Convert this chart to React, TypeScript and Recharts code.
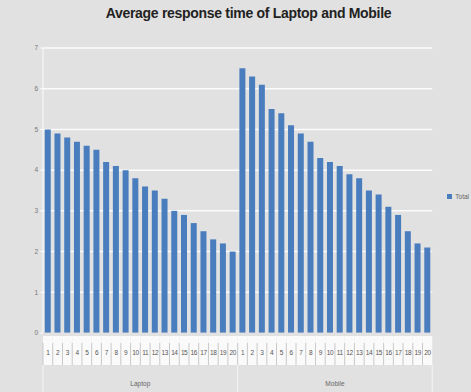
import { BarChart, Bar, XAxis, YAxis, CartesianGrid, Legend } from 'recharts'

const groups = ['Laptop', 'Mobile']
const runs = [1, 2, 3, 4, 5, 6, 7, 8, 9, 10, 11, 12, 13, 14, 15, 16, 17, 18, 19, 20]
const laptopTimes = [5.0, 4.9, 4.8, 4.7, 4.6, 4.5, 4.2, 4.1, 4.0, 3.8, 3.6, 3.5, 3.3, 3.0, 2.9, 2.7, 2.5, 2.3, 2.2, 2.0]
const mobileTimes = [6.5, 6.3, 6.1, 5.5, 5.4, 5.1, 4.9, 4.7, 4.3, 4.2, 4.1, 3.9, 3.8, 3.5, 3.4, 3.1, 2.9, 2.5, 2.2, 2.1]
const yTicks = [0, 1, 2, 3, 4, 5, 6, 7]

const seriesByGroup = [laptopTimes, mobileTimes]
const data = groups.flatMap((group, g) =>
  runs.map((run, i) => ({
    key: `${group}-${run}`,
    run,
    group,
    Total: seriesByGroup[g][i],
  })),
)

const W = 471
const H = 392
const M = { top: 48, right: 17, bottom: 3, left: 0 }
const Y_W = 43
const PLOT_W = 432 - Y_W
const BAND = PLOT_W / data.length
const BLUE = '#4a7dbd'

function RunTick(props: any) {
  const { x, y, index } = props
  return (
    <g>
      <rect x={x - BAND / 2} y={y + 1} width={BAND} height={29} fill="#fafafa" />
      <line x1={x - BAND / 2} x2={x - BAND / 2} y1={y + 8} y2={y + 30} stroke="#c9c9c9" />
      <text x={x} y={y + 20} textAnchor="middle" fontSize={6.5} fill="#555" letterSpacing={-0.4}>
        {data[index]?.run}
      </text>
    </g>
  )
}

function GroupTick(props: any) {
  const { x, y, payload, index } = props
  const pos = index % runs.length
  return (
    <g>
      {pos === 0 && (
        <line x1={x - BAND / 2} x2={x - BAND / 2} y1={y} y2={y + 28} stroke="#f4f4f4" />
      )}
      {index === data.length - 1 && (
        <line x1={x + BAND / 2} x2={x + BAND / 2} y1={y} y2={y + 28} stroke="#f4f4f4" />
      )}
      {pos === runs.length / 2 - 1 && (
        <text x={x + BAND / 2} y={y + 21} textAnchor="middle" fontSize={6.5} fill="#666">
          {payload.value}
        </text>
      )}
    </g>
  )
}

function LegendBox() {
  return (
    <div style={{ display: 'flex', alignItems: 'center', fontSize: 6.5, color: '#666', fontFamily: 'Liberation Sans, sans-serif' }}>
      <span style={{ width: 5, height: 5, background: BLUE, marginRight: 3 }} />
      Total
    </div>
  )
}

export default function App() {
  return (
    <div
      style={{
        position: 'absolute',
        left: 0,
        top: 0,
        width: W,
        height: H,
        background: '#e1e1e1',
        fontFamily: 'Liberation Sans, sans-serif',
        overflow: 'hidden',
      }}
    >
      <div
        style={{
          position: 'absolute',
          top: 5,
          left: 13,
          width: W,
          textAlign: 'center',
          fontSize: 14,
          fontWeight: 'bold',
          color: '#222',
          letterSpacing: -0.3,
        }}
      >
        Average response time of Laptop and Mobile
      </div>
      <BarChart width={W} height={H} data={data} margin={M} barCategoryGap="18%">
        <CartesianGrid vertical={false} stroke="#fbfbfb" strokeWidth={1.5} />
        <YAxis
          width={Y_W}
          domain={[0, 7]}
          ticks={yTicks}
          axisLine={{ stroke: '#fbfbfb' }}
          tickLine={{ stroke: '#fbfbfb' }}
          tickSize={3}
          tick={{ fontSize: 6.5, fill: '#777' }}
        />
        <XAxis
          xAxisId="a"
          dataKey="key"
          height={30}
          interval={0}
          tickLine={false}
          tickSize={0}
          axisLine={{ stroke: '#d0d0d0' }}
          tick={<RunTick />}
        />
        <XAxis
          xAxisId="b"
          dataKey="group"
          height={26}
          interval={0}
          tickLine={false}
          tickSize={0}
          axisLine={false}
          tick={<GroupTick />}
        />
        <Legend
          layout="vertical"
          align="right"
          verticalAlign="middle"
          wrapperStyle={{ right: 2 }}
          content={<LegendBox />}
        />
        <Bar dataKey="Total" xAxisId="a" fill={BLUE} isAnimationActive={false} />
      </BarChart>
    </div>
  )
}
